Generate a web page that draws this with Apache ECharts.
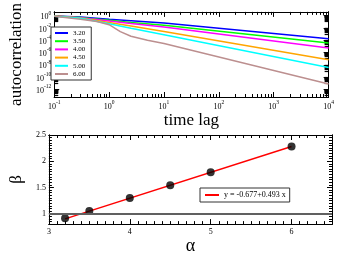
<!DOCTYPE html>
<html><head><meta charset="utf-8">
<script src="https://cdn.jsdelivr.net/npm/echarts@6/dist/echarts.min.js"></script>
<style>html,body{margin:0;padding:0;background:#fff}#c{width:337px;height:256px}</style>
</head><body><div id="c"></div>
<script>
// ---- data: top panel (autocorrelation vs time lag) ----
const seriesNames = ['3.20', '3.50', '4.00', '4.50', '5.00', '6.00'];
const lagTimes = [0.1, 0.3, 1, 2.5, 10, 10000];
const acf320 = [0.90, 0.60, 0.255, 0.15, 0.065, 1.8e-4];
const acf350 = [0.87, 0.51, 0.18, 0.077, 0.028, 3.6e-5];
const acf400 = [0.84, 0.46, 0.13, 0.05, 0.014, 5.5e-6];
const acf450 = [0.84, 0.40, 0.077, 0.02, 2.6e-3, 6.5e-8];
const acf500 = [0.81, 0.36, 0.046, 8.5e-3, 7.8e-4, 3.6e-9];
const brownLagTimes = [0.1, 0.3, 0.6, 1, 1.6, 2.5, 5, 10, 10000];
const acf600 = [0.79, 0.26, 0.11, 0.033, 2.5e-3, 4.5e-4, 1e-4, 3e-5, 7.9e-12];
// tick labels
const xMajorTicks = [0.1, 1, 10, 100, 1000, 10000];
const yLabelExps = [0, -2, -4, -6, -8, -10, -12];

// ---- data: bottom panel (beta vs alpha) ----
const alphaValues = [3.2, 3.5, 4.0, 4.5, 5.0, 6.0];
const betaValues = [0.91, 1.05, 1.30, 1.54, 1.79, 2.28];
const fitName = 'y = -0.677+0.493 x';
const fitAlpha = [3.2, 6.0];
const fitBeta = [0.90, 2.28];
const refBeta = 1;
const alphaTicks = [3, 4, 5, 6];
const betaTicks = [1, 1.5, 2, 2.5];

// ---- build ----
const FONT = 'Liberation Serif';
const acfAll = [acf320, acf350, acf400, acf450, acf500, acf600];
const colors = ['#0000ff', '#00ff00', '#ff00ff', '#ffa500', '#00ffff', '#bc8f8f'];

const yMajorTicks = yLabelExps.map(e => Math.pow(10, e));
const xMinorTicks = [];
xMajorTicks.slice(0, -1).forEach(d => { for (let m = 2; m <= 9; m++) xMinorTicks.push(d * m); });
const yMin = 6e-14, yMax = 4;
const yMinorTicks = [];
for (let e = -14; e <= -2; e += 2) {
  for (let j = 1; j <= 9; j++) {
    const v = Math.pow(10, e) * (1 + 9.9 * j);
    if (v > yMin && v < yMax) yMinorTicks.push(v);
  }
}
const alphaMinor = [];
for (let i = 30; i <= 65; i++) if (i % 10 !== 0) alphaMinor.push(i / 10);
const betaMinor = [];
for (let i = 16; i <= 50; i++) if (i % 10 !== 0) betaMinor.push(i / 20);

const richLog = {
  b: { fontSize: 8, fontFamily: FONT, color: '#000', lineHeight: 11, verticalAlign: 'bottom' },
  s: { fontSize: 5.5, fontFamily: FONT, color: '#000', lineHeight: 6, verticalAlign: 'top' }
};
const logFmt = v => '{b|10}{s|' + Math.round(Math.log10(v)) + '}';

function ax(extra) {
  return Object.assign({
    axisLine: { show: true, onZero: false, lineStyle: { color: '#000', width: 1 } },
    splitLine: { show: false },
    axisLabel: { show: false },
  }, extra);
}
function ticks(vals, len, w) {
  return { show: true, inside: true, length: len, customValues: vals, lineStyle: { color: '#000', width: w || 1 } };
}

const xAxes = [
  ax({ gridIndex: 0, type: 'log', position: 'bottom', min: 0.1, max: 10000,
       axisTick: ticks(xMajorTicks, 5),
       axisLabel: { show: true, customValues: xMajorTicks, formatter: logFmt, rich: richLog, margin: 3 },
       name: 'time lag', nameLocation: 'middle', nameGap: 10,
       nameTextStyle: { fontFamily: FONT, fontSize: 17, color: '#000' } }),
  ax({ gridIndex: 0, type: 'log', position: 'top', min: 0.1, max: 10000, axisTick: ticks(xMajorTicks, 5) }),
  ax({ gridIndex: 0, type: 'log', position: 'bottom', min: 0.1, max: 10000, axisTick: ticks(xMinorTicks, 3) }),
  ax({ gridIndex: 0, type: 'log', position: 'top', min: 0.1, max: 10000, axisTick: ticks(xMinorTicks, 3) }),
  ax({ gridIndex: 1, type: 'value', position: 'bottom', min: 3, max: 6.5,
       axisTick: ticks(alphaTicks, 5),
       axisLabel: { show: true, customValues: alphaTicks, fontFamily: FONT, fontSize: 8, color: '#000', margin: 4 },
       name: 'α', nameLocation: 'middle', nameGap: 12,
       nameTextStyle: { fontFamily: FONT, fontSize: 18, color: '#000' } }),
  ax({ gridIndex: 1, type: 'value', position: 'top', min: 3, max: 6.5, axisTick: ticks(alphaTicks, 5) }),
  ax({ gridIndex: 1, type: 'value', position: 'bottom', min: 3, max: 6.5, axisTick: ticks(alphaMinor, 3) }),
  ax({ gridIndex: 1, type: 'value', position: 'top', min: 3, max: 6.5, axisTick: ticks(alphaMinor, 3) })
];
const yAxes = [
  ax({ gridIndex: 0, type: 'log', position: 'left', min: yMin, max: yMax,
       axisTick: ticks(yMajorTicks, 5),
       axisLabel: { show: true, customValues: yMajorTicks, formatter: logFmt, rich: richLog, margin: 3 },
       name: 'autocorrelation', nameLocation: 'middle', nameRotate: 90, nameGap: 17,
       nameTextStyle: { fontFamily: FONT, fontSize: 17, color: '#000' } }),
  ax({ gridIndex: 0, type: 'log', position: 'right', min: yMin, max: yMax, axisTick: ticks(yMajorTicks, 5) }),
  ax({ gridIndex: 0, type: 'log', position: 'left', min: yMin, max: yMax, axisTick: ticks(yMinorTicks, 4, 1.2) }),
  ax({ gridIndex: 0, type: 'log', position: 'right', min: yMin, max: yMax, axisTick: ticks(yMinorTicks, 4, 1.2) }),
  ax({ gridIndex: 1, type: 'value', position: 'left', min: 0.8, max: 2.5,
       axisTick: ticks(betaTicks, 5),
       axisLabel: { show: true, customValues: betaTicks, fontFamily: FONT, fontSize: 8, color: '#000', margin: 3 },
       name: 'β', nameLocation: 'middle', nameRotate: 90, nameGap: 14,
       nameTextStyle: { fontFamily: FONT, fontSize: 17, color: '#000' } }),
  ax({ gridIndex: 1, type: 'value', position: 'right', min: 0.8, max: 2.5, axisTick: ticks(betaTicks, 5) }),
  ax({ gridIndex: 1, type: 'value', position: 'left', min: 0.8, max: 2.5, axisTick: ticks(betaMinor, 3) }),
  ax({ gridIndex: 1, type: 'value', position: 'right', min: 0.8, max: 2.5, axisTick: ticks(betaMinor, 3) })
];

const series = seriesNames.map((name, i) => {
  const lags = i === 5 ? brownLagTimes : lagTimes;
  return {
    name, type: 'line', xAxisIndex: 0, yAxisIndex: 0, showSymbol: false, symbol: 'none',
    color: colors[i], lineStyle: { color: colors[i], width: 1.5 },
    data: lags.map((t, k) => [t, acfAll[i][k]])
  };
});
series.push({
  name: fitName, type: 'line', xAxisIndex: 4, yAxisIndex: 4, symbol: 'none',
  color: '#ff0000', lineStyle: { color: '#ff0000', width: 1.5 },
  data: fitAlpha.map((a, k) => [a, fitBeta[k]]), z: 3
});
series.push({
  name: 'points', type: 'scatter', xAxisIndex: 4, yAxisIndex: 4, symbolSize: 8,
  itemStyle: { color: '#000' }, z: 4,
  data: alphaValues.map((a, k) => [a, betaValues[k]]),
  markLine: { silent: true, symbol: 'none', label: { show: false },
    lineStyle: { color: '#606060', width: 2, type: 'solid' }, data: [{ yAxis: refBeta }] }
});

const option = {
  animation: false,
  backgroundColor: '#fff',
  grid: [
    { left: 37, top: 4, width: 295, height: 93 },
    { left: 32, top: 135, width: 300, height: 98 }
  ],
  xAxis: xAxes,
  yAxis: yAxes,
  legend: [
    { data: seriesNames, orient: 'vertical', left: 51, top: 27, icon: 'rect',
      itemWidth: 13, itemHeight: 2, itemGap: 0.2, padding: [2, 6, 2, 4],
      borderColor: '#333', borderWidth: 1, backgroundColor: '#fff',
      textStyle: { fontFamily: FONT, fontSize: 7, lineHeight: 8, color: '#000' } },
    { data: [fitName], left: 200, top: 188, icon: 'rect',
      itemWidth: 14, itemHeight: 2, padding: [3, 4, 3, 5],
      borderColor: '#333', borderWidth: 1, backgroundColor: '#fff',
      textStyle: { fontFamily: FONT, fontSize: 8, color: '#000' } }
  ],
  series
};
const chart = echarts.init(document.getElementById('c'));
chart.setOption(option);
</script></body></html>
